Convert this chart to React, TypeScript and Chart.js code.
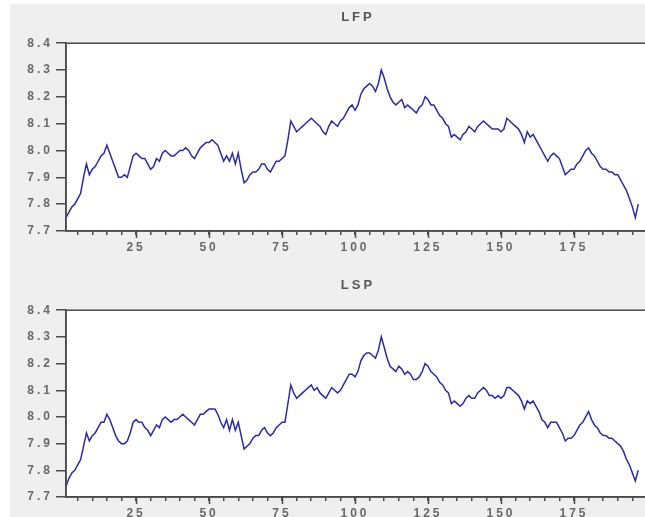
import React, { useEffect, useRef } from 'react';
import { Chart, registerables } from 'chart.js';

Chart.register(...registerables);

const lfpValues = [
  7.75, 7.77, 7.79, 7.80, 7.82, 7.84, 7.90, 7.95, 7.91, 7.93,
  7.94, 7.96, 7.98, 7.99, 8.02, 7.99, 7.96, 7.93, 7.90, 7.90,
  7.91, 7.90, 7.94, 7.98, 7.99, 7.98, 7.97, 7.97, 7.95, 7.93,
  7.94, 7.97, 7.96, 7.99, 8.00, 7.99, 7.98, 7.98, 7.99, 8.00,
  8.00, 8.01, 8.00, 7.98, 7.97, 7.99, 8.01, 8.02, 8.03, 8.03,
  8.04, 8.03, 8.02, 7.99, 7.96, 7.98, 7.96, 7.99, 7.95, 7.99,
  7.93, 7.88, 7.89, 7.91, 7.92, 7.92, 7.93, 7.95, 7.95, 7.93,
  7.92, 7.94, 7.96, 7.96, 7.97, 7.98, 8.04, 8.11, 8.09, 8.07,
  8.08, 8.09, 8.10, 8.11, 8.12, 8.11, 8.10, 8.09, 8.07, 8.06,
  8.09, 8.11, 8.10, 8.09, 8.11, 8.12, 8.14, 8.16, 8.17, 8.15,
  8.17, 8.21, 8.23, 8.24, 8.25, 8.24, 8.22, 8.25, 8.30, 8.27,
  8.23, 8.20, 8.18, 8.17, 8.18, 8.19, 8.16, 8.17, 8.16, 8.15,
  8.14, 8.16, 8.17, 8.20, 8.19, 8.17, 8.17, 8.15, 8.13, 8.12,
  8.10, 8.09, 8.05, 8.06, 8.05, 8.04, 8.06, 8.07, 8.09, 8.08,
  8.07, 8.09, 8.10, 8.11, 8.10, 8.09, 8.08, 8.08, 8.08, 8.07,
  8.08, 8.12, 8.11, 8.10, 8.09, 8.08, 8.06, 8.03, 8.07, 8.05,
  8.06, 8.04, 8.02, 8.00, 7.98, 7.96, 7.98, 7.99, 7.98, 7.97,
  7.94, 7.91, 7.92, 7.93, 7.93, 7.95, 7.96, 7.98, 8.00, 8.01,
  7.99, 7.98, 7.96, 7.94, 7.93, 7.93, 7.92, 7.92, 7.91, 7.91,
  7.89, 7.87, 7.85, 7.82, 7.79, 7.75, 7.80,
];

const lspValues = [
  7.74, 7.77, 7.79, 7.80, 7.82, 7.84, 7.89, 7.94, 7.91, 7.93,
  7.94, 7.96, 7.98, 7.98, 8.01, 7.99, 7.96, 7.93, 7.91, 7.90,
  7.90, 7.91, 7.94, 7.98, 7.99, 7.98, 7.98, 7.96, 7.95, 7.93,
  7.95, 7.97, 7.96, 7.99, 8.00, 7.99, 7.98, 7.99, 7.99, 8.00,
  8.01, 8.00, 7.99, 7.98, 7.97, 7.99, 8.01, 8.01, 8.02, 8.03,
  8.03, 8.03, 8.01, 7.98, 7.96, 7.99, 7.95, 7.99, 7.95, 7.98,
  7.93, 7.88, 7.89, 7.90, 7.92, 7.93, 7.93, 7.95, 7.96, 7.94,
  7.93, 7.94, 7.96, 7.97, 7.98, 7.98, 8.05, 8.12, 8.09, 8.07,
  8.08, 8.09, 8.10, 8.11, 8.12, 8.10, 8.11, 8.09, 8.08, 8.07,
  8.09, 8.11, 8.10, 8.09, 8.10, 8.12, 8.14, 8.16, 8.16, 8.15,
  8.17, 8.21, 8.23, 8.24, 8.24, 8.23, 8.22, 8.25, 8.30, 8.26,
  8.22, 8.19, 8.18, 8.17, 8.19, 8.18, 8.16, 8.17, 8.16, 8.14,
  8.14, 8.15, 8.17, 8.20, 8.19, 8.17, 8.16, 8.15, 8.13, 8.12,
  8.10, 8.09, 8.05, 8.06, 8.05, 8.04, 8.05, 8.07, 8.08, 8.07,
  8.07, 8.09, 8.10, 8.11, 8.10, 8.08, 8.08, 8.07, 8.08, 8.07,
  8.08, 8.11, 8.11, 8.10, 8.09, 8.08, 8.06, 8.03, 8.06, 8.05,
  8.06, 8.04, 8.02, 7.99, 7.98, 7.96, 7.98, 7.98, 7.98, 7.96,
  7.94, 7.91, 7.92, 7.92, 7.93, 7.95, 7.97, 7.98, 8.00, 8.02,
  7.99, 7.97, 7.96, 7.94, 7.93, 7.93, 7.92, 7.92, 7.91, 7.90,
  7.89, 7.87, 7.84, 7.82, 7.79, 7.76, 7.80,
];

const xMinorTicks = [5, 10, 15, 20, 25, 30, 35, 40, 45, 50, 55, 60, 65, 70, 75, 80, 85, 90, 95, 100,
  105, 110, 115, 120, 125, 130, 135, 140, 145, 150, 155, 160, 165, 170, 175, 180, 185, 190, 195, 200];
const xMajorTicks = [25, 50, 75, 100, 125, 150, 175];
const yTickValues = [7.7, 7.8, 7.9, 8.0, 8.1, 8.2, 8.3, 8.4];

const LINE_COLOR = '#2b2ba8';
const AXIS_COLOR = '#4a4a4a';
const TEXT_COLOR = '#686868';
const FONT = 'Liberation Sans';

const decoPlugin = {
  id: 'panelDeco',
  beforeDraw(chart: any) {
    const ctx = chart.ctx;
    (ctx as any).letterSpacing = '3px';
    const a = chart.chartArea;
    ctx.save();
    ctx.fillStyle = '#ffffff';
    ctx.fillRect(a.left, a.top, a.right - a.left, a.bottom - a.top);
    ctx.restore();
  },
  afterDraw(chart: any) {
    const ctx = chart.ctx;
    const a = chart.chartArea;
    ctx.save();
    ctx.strokeStyle = AXIS_COLOR;
    ctx.lineWidth = 1.5;
    ctx.strokeRect(a.left, a.top, a.right - a.left, a.bottom - a.top);
    const xs = chart.scales.x;
    ctx.beginPath();
    for (const v of xMajorTicks) {
      const px = Math.round(xs.getPixelForValue(v)) + 0.5;
      ctx.moveTo(px, a.bottom);
      ctx.lineTo(px, a.bottom + 7);
    }
    ctx.stroke();
    ctx.restore();
  },
};

function Panel(props: { title: string; values: number[]; height: number; titleTop: number; titleBottom: number }) {
  const ref = useRef<HTMLCanvasElement | null>(null);
  const { title, values, height, titleTop, titleBottom } = props;

  useEffect(() => {
    if (!ref.current) return;
    const points = values.map((v, i) => ({ x: i + 1, y: v }));
    const chart = new Chart(ref.current, {
      type: 'line',
      data: {
        datasets: [
          {
            label: title,
            data: points,
            borderColor: LINE_COLOR,
            borderWidth: 1.5,
            pointRadius: 0,
            tension: 0,
            fill: false,
          },
        ],
      },
      options: {
        responsive: false,
        animation: false,
        events: [],
        layout: { padding: 0 },
        plugins: {
          legend: { display: false },
          tooltip: { enabled: false },
          title: {
            display: true,
            text: title,
            fullSize: false,
            color: '#555555',
            font: { family: FONT, size: 13, weight: 'bold' },
            padding: { top: titleTop, bottom: titleBottom },
          },
        },
        scales: {
          x: {
            type: 'linear',
            min: 1,
            max: 201,
            afterBuildTicks: (scale: any) => {
              scale.ticks = xMinorTicks.map((v) => ({ value: v }));
            },
            afterFit: (scale: any) => {
              scale.height = 27;
            },
            grid: {
              drawOnChartArea: false,
              drawTicks: true,
              tickLength: 4,
              color: AXIS_COLOR,
              lineWidth: 1.5,
            },
            border: { display: true, color: AXIS_COLOR, width: 1.5 },
            ticks: {
              autoSkip: false,
              maxRotation: 0,
              padding: 5,
              color: TEXT_COLOR,
              font: { family: FONT, size: 12, weight: 'bold' },
              callback: (v: any) => (xMajorTicks.includes(Number(v)) ? String(v) : ''),
            },
          },
          y: {
            type: 'linear',
            min: 7.7,
            max: 8.4,
            afterBuildTicks: (scale: any) => {
              scale.ticks = yTickValues.map((v) => ({ value: v }));
            },
            afterFit: (scale: any) => {
              scale.width = 66;
            },
            grid: {
              drawOnChartArea: false,
              drawTicks: true,
              tickLength: 10,
              color: AXIS_COLOR,
              lineWidth: 1.5,
            },
            border: { display: true, color: AXIS_COLOR, width: 1.5 },
            ticks: {
              padding: 3,
              color: TEXT_COLOR,
              font: { family: FONT, size: 12, weight: 'bold' },
              callback: (v: any) => Number(v).toFixed(1),
            },
          },
        },
      },
      plugins: [decoPlugin],
    });
    return () => chart.destroy();
  }, [title, values, titleTop, titleBottom]);

  return <canvas ref={ref} width={652} height={height} style={{ display: 'block' }} />;
}

export default function App() {
  return (
    <div
      style={{
        position: 'fixed',
        left: 0,
        top: 0,
        width: 645,
        height: 517,
        overflow: 'hidden',
        background: '#ffffff',
      }}
    >
      <div style={{ position: 'absolute', left: 10, top: 4, width: 640, height: 520, background: '#efefef' }} />
      <div style={{ position: 'absolute', left: 0, top: 0 }}>
        <Panel title="LFP" values={lfpValues} height={258} titleTop={10} titleBottom={17.6} />
      </div>
      <div style={{ position: 'absolute', left: 0, top: 258 }}>
        <Panel title="LSP" values={lspValues} height={266} titleTop={20} titleBottom={16.6} />
      </div>
    </div>
  );
}
